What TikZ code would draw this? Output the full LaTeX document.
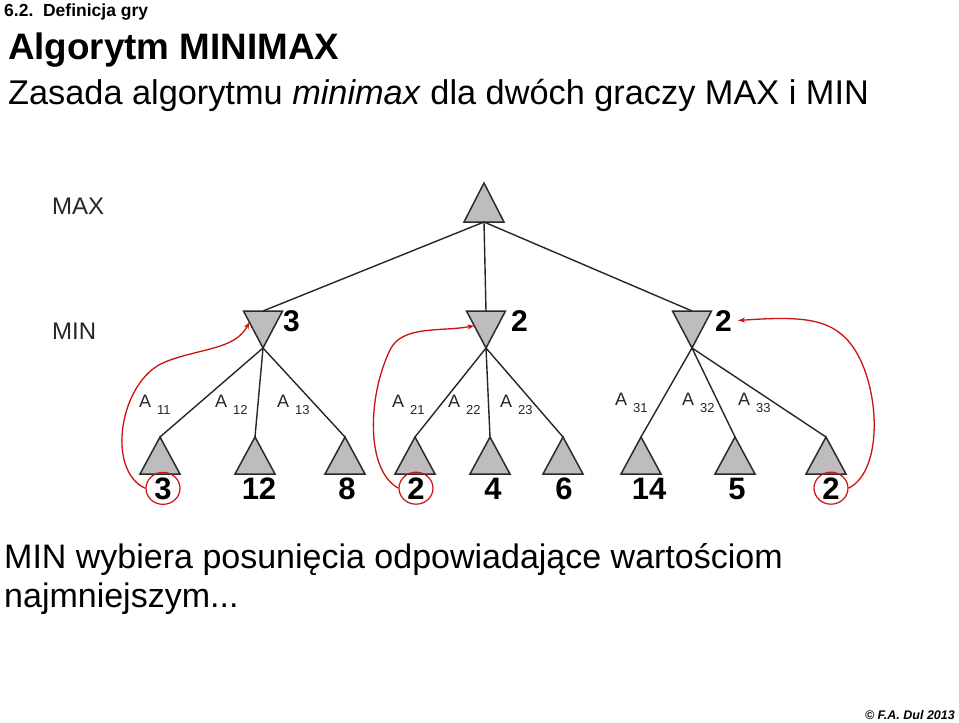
\documentclass[tikz,border=0pt]{standalone}
\usepackage{fontspec}
\setmainfont{Liberation Sans}
\usetikzlibrary{arrows.meta,calc,shapes.geometric}
\definecolor{nodefill}{HTML}{BDBDBD}
\definecolor{nodeline}{HTML}{2B2B2B}
\definecolor{pickred}{HTML}{CC1111}
\definecolor{labgray}{HTML}{262626}
\newcommand{\fs}[1]{\fontsize{#1}{#1}\selectfont}
\newcommand{\Aij}[1]{A\hspace{6pt}\raisebox{-7pt}{\fs{13}#1}}

\begin{document}
\begin{tikzpicture}[x=1pt,y=-1pt,
  tri/.style={fill=nodefill,draw=nodeline,line width=1.5pt},
  edge/.style={draw=black!85,line width=1.4pt},
  minval/.style={font=\fs{30}\bfseries,inner sep=1pt,anchor=base west},
  leafval/.style={font=\fs{31}\bfseries,inner sep=1pt,anchor=base},
  picked/.style={ellipse,draw=pickred,line width=1.2pt,minimum width=34pt,minimum height=32pt,inner sep=0pt},
  back/.style={pickred,line width=1.3pt,-{Stealth[length=7pt,width=5pt]}},
  elab/.style={font=\fs{18},text=labgray,inner sep=0pt,anchor=base west},
  level/.style={font=\fs{24},text=labgray,inner sep=0pt,anchor=base west},
  txt/.style={inner sep=0pt,anchor=base west}]
  \useasboundingbox (0,0) rectangle (959,723);

  \node[txt,font=\fs{17.5}\bfseries] (sect) at (4,16) {6.2.\ \ Definicja gry};
  \node[txt,font=\fs{36.8}\bfseries] (title) at (8,59) {Algorytm MINIMAX};
  \node[txt,font=\fs{34.3}] (subtitle) at (8,104) {Zasada algorytmu \textit{minimax} dla dwóch graczy MAX i MIN};

  \node[level] (maxlab) at (52,214) {MAX};
  \node[level] (minlab) at (52,339) {MIN};

  \coordinate (root) at (484,183);
  \coordinate (root-b) at (484,222);
  \draw[tri] (root) -- (504,222) -- (464,222) -- cycle;

  \foreach \n/\x/\vx/\v in {m1/263/282/3,m2/486/510/2,m3/692/714/2}{
    \coordinate (\n) at (\x,311);
    \coordinate (\n-l) at (\x-19.5,311);
    \coordinate (\n-a) at (\x,348);
    \draw[tri] (\n-l) -- (\x+19.5,311) -- (\n-a) -- cycle;
    \node[minval] (\n-v) at (\vx,331) {\v};
  }
  \draw[edge] (root-b) -- (m1);
  \draw[edge] (root-b) -- (m2);
  \draw[edge] (root-b) -- (m3);

  \foreach \n/\x/\vx/\v/\s in {l11/160/163/3/picked,l12/255/259/12/,l13/345/347/8/,
      l21/415/416/2/picked,l22/490/493/4/,l23/563/564/6/,
      l31/641/649/14/,l32/735/737/5/,l33/826/831/2/picked}{
    \coordinate (\n) at (\x,437);
    \draw[tri] (\n) -- (\x+20,474) -- (\x-20,474) -- cycle;
    \node[leafval,\s] (\n-v) at (\vx,499) {\v};
  }
  \foreach \m/\l in {m1/l11,m1/l12,m1/l13,m2/l21,m2/l22,m2/l23,m3/l31,m3/l32,m3/l33}
    \draw[edge] (\m-a) -- (\l);

  \foreach \ij/\x/\y in {11/139/407,12/215/407,13/277/407,21/392/407,22/448/407,
      23/500/407,31/615/405,32/682/405,33/738/405}
    \node[elab] (a\ij) at (\x,\y) {\Aij{\ij}};

  \coordinate (k1) at ($(m1-l)!0.3!(m1-a)$);
  \coordinate (k2) at ($(m2-l)!0.4!(m2-a)$);
  \coordinate (k3) at ([xshift=5pt]m3-v.east);
  \draw[back] (l11-v.west) .. controls (105,470) and (120,380) .. (165,362)
    .. controls (200,348) and (235,350) .. (k1);
  \draw[back] (l21-v.west) .. controls (365,470) and (368,395) .. (390,350)
    .. controls (402,325) and (440,332) .. (k2);
  \draw[back] (l33-v.east) .. controls (885,470) and (880,380) .. (850,343)
    .. controls (830,318) and (800,316) .. (k3);

  \node[txt,font=\fs{34}] (note1) at (4,568) {MIN wybiera posunięcia odpowiadające wartościom};
  \node[txt,font=\fs{34}] (note2) at (4,607) {najmniejszym...};
  \node[inner sep=0pt,anchor=base east,font=\fs{12.5}\bfseries\itshape] (copy) at (955,719) {© F.A. Dul 2013};
\end{tikzpicture}
\end{document}
